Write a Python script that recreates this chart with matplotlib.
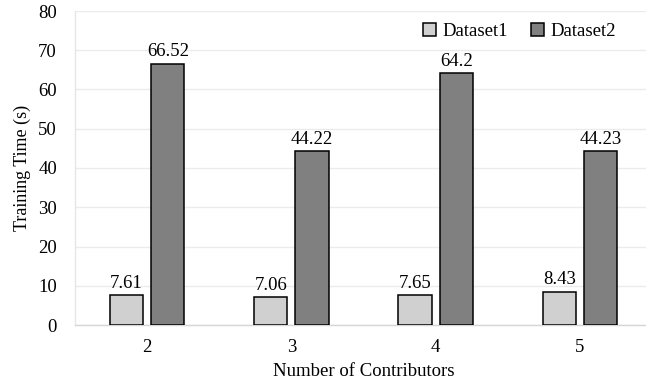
import matplotlib
matplotlib.use("Agg")
import matplotlib.pyplot as plt
import numpy as np

categories = ["2", "3", "4", "5"]
dataset1 = [7.61, 7.06, 7.65, 8.43]
dataset2 = [66.52, 44.22, 64.2, 44.23]
labels1 = ["7.61", "7.06", "7.65", "8.43"]
labels2 = ["66.52", "44.22", "64.2", "44.23"]
yticks = [0, 10, 20, 30, 40, 50, 60, 70, 80]

plt.rcParams['font.family'] = ['Liberation Serif', 'DejaVu Serif']
FS = 13.5

fig = plt.figure(figsize=(6.46, 3.81), dpi=100)
ax = fig.add_axes([75/646, 56/381, 577/646, 314/381])

x = np.arange(len(categories))
w = 0.23
off = 0.143
b1 = ax.bar(x - off, dataset1, w, color="#d0d0d0", edgecolor="black", linewidth=1.1, label="Dataset1", zorder=3)
b2 = ax.bar(x + off, dataset2, w, color="#808080", edgecolor="black", linewidth=1.1, label="Dataset2", zorder=3)

for rect, t in zip(b1, labels1):
    ax.annotate(t, (rect.get_x() + rect.get_width()/2, rect.get_height()), xytext=(0, 2.5),
                textcoords="offset points", ha="center", va="bottom", fontsize=FS)
for rect, t in zip(b2, labels2):
    ax.annotate(t, (rect.get_x() + rect.get_width()/2, rect.get_height()), xytext=(0, 2.5),
                textcoords="offset points", ha="center", va="bottom", fontsize=FS)

ax.set_xlim(-0.5, 3.5)
ax.set_ylim(0, 80)
ax.set_yticks(yticks)
ax.set_xticks(x)
ax.set_xticklabels(categories)
ax.tick_params(axis="both", length=0, labelsize=FS)
ax.tick_params(axis="y", pad=13)
ax.tick_params(axis="x", pad=10)
ax.yaxis.grid(True, color="#ebebeb", linewidth=1, zorder=0)
ax.set_axisbelow(True)
for s in ["top", "right"]:
    ax.spines[s].set_visible(False)
ax.spines["left"].set_color("#e6e6e6")
ax.spines["bottom"].set_color("#d6d6d6")
ax.spines["left"].set_linewidth(1)
ax.spines["bottom"].set_linewidth(1)

ax.set_ylabel("Training Time (s)", fontsize=13, labelpad=5)
ax.set_xlabel("Number of Contributors", fontsize=FS, labelpad=5)

leg = ax.legend(loc="upper left", bbox_to_anchor=(0.59, 0.985), ncol=2, frameon=False,
                fontsize=FS, handlelength=0.7, handleheight=0.7, handletextpad=0.35,
                columnspacing=1.2, borderaxespad=0)

fig.savefig("out.png", dpi=100)
